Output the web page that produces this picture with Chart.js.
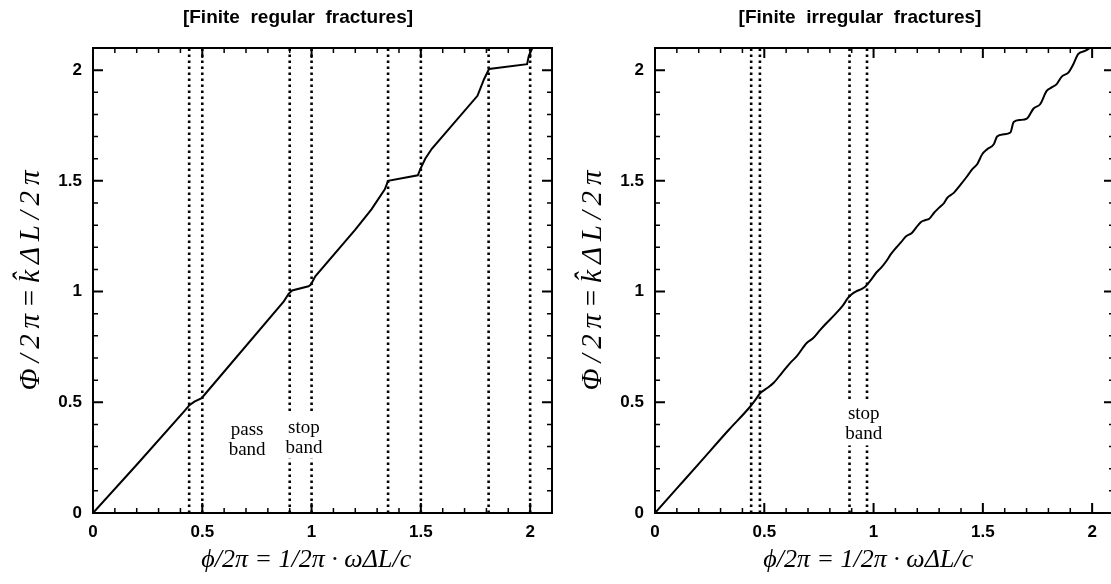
<!DOCTYPE html>
<html>
<head>
<title>Phase vs frequency: finite fractures</title>
<script src="https://cdn.jsdelivr.net/npm/chart.js@4.4.1/dist/chart.umd.min.js"></script>
<style>
body { margin: 0; background: #fff; width: 1111px; height: 584px; overflow: hidden; position: relative; }
.panel { position: absolute; top: 0; width: 557px; height: 584px; }
#left { left: 0; }
#right { left: 562px; }
</style>
</head>
<body>
<div class="panel" id="left"><canvas id="chartRegular" width="557" height="584"></canvas></div>
<div class="panel" id="right"><canvas id="chartIrregular" width="557" height="584"></canvas></div>
<script>
// regular fracture spacing: normalised frequency vs normalised phase
var regularX = [0, 0.2, 0.42, 0.441, 0.464, 0.497, 0.517, 0.873, 0.895, 0.911, 0.986, 0.997, 1.017, 1.2, 1.274, 1.335, 1.35, 1.486, 1.497, 1.52, 1.55, 1.759, 1.789, 1.812, 1.986, 1.994, 2.01];
var regularY = [0, 0.218, 0.462, 0.487, 0.503, 0.519, 0.542, 0.956, 0.99, 1.005, 1.024, 1.032, 1.069, 1.28, 1.371, 1.462, 1.5, 1.525, 1.552, 1.6, 1.645, 1.884, 1.959, 2.005, 2.027, 2.065, 2.1];
var regularBandEdges = [0.44, 0.5, 0.9, 1.0, 1.35, 1.5, 1.81, 2.0];

// irregular fracture spacing
var irregularX = [0, 0.1, 0.2, 0.338, 0.436, 0.46, 0.482, 0.51, 0.542, 0.58, 0.618, 0.65, 0.694, 0.724, 0.755, 0.785, 0.83, 0.86, 0.883, 0.9, 0.921, 0.944, 0.964, 0.99, 1.012, 1.035, 1.058, 1.08, 1.103, 1.125, 1.149, 1.175, 1.194, 1.217, 1.235, 1.255, 1.277, 1.3, 1.323, 1.338, 1.368, 1.399, 1.429, 1.451, 1.474, 1.497, 1.52, 1.55, 1.565, 1.595, 1.626, 1.641, 1.671, 1.701, 1.732, 1.762, 1.792, 1.815, 1.838, 1.861, 1.891, 1.914, 1.936, 1.967, 1.994];
var irregularY = [0, 0.111, 0.222, 0.376, 0.481, 0.512, 0.542, 0.562, 0.587, 0.632, 0.677, 0.71, 0.768, 0.79, 0.826, 0.858, 0.904, 0.938, 0.971, 0.988, 1.001, 1.011, 1.024, 1.055, 1.085, 1.108, 1.137, 1.17, 1.198, 1.222, 1.25, 1.265, 1.288, 1.314, 1.322, 1.329, 1.356, 1.379, 1.401, 1.424, 1.447, 1.484, 1.522, 1.552, 1.575, 1.62, 1.643, 1.665, 1.7, 1.71, 1.718, 1.766, 1.775, 1.781, 1.827, 1.846, 1.906, 1.922, 1.937, 1.971, 1.989, 2.027, 2.072, 2.087, 2.103];
var irregularBandEdges = [0.44, 0.48, 0.89, 0.97];

var axisMin = 0, axisMax = 2.1;
// trailing spaces pull the centred label a little to the left
var xTitle = 'ϕ/2π = 1/2π · ωΔL/c     ';
var yTitle = 'Φ\u2009/\u20092\u2009π\u2009=\u2009k\u0302\u2009Δ\u2009L\u2009/\u20092\u2009π';

var regularNotes = [
    { x: 0.705, y: 0.33, lines: ['pass', 'band'] },
    { x: 0.965, y: 0.34, lines: ['stop', 'band'] }
];
var irregularNotes = [
    { x: 0.955, y: 0.40, lines: ['stop', 'band'] }
];

var sans = "'Liberation Sans', Arial, Helvetica, sans-serif";
var serif = "'Liberation Serif', 'Times New Roman', serif";

function toPoints(xs, ys) {
    var pts = [];
    for (var i = 0; i < xs.length; i++) pts.push({ x: xs[i], y: ys[i] });
    return pts;
}

function bandLines(edges) {
    return edges.map(function (v) {
        return {
            data: [{ x: v, y: axisMin }, { x: v, y: axisMax }],
            borderColor: '#000',
            borderWidth: 2.6,
            borderDash: [2.4, 3.6],
            pointRadius: 0,
            showLine: true
        };
    });
}

// title, band notes, box frame and inward tick marks
var decorPlugin = {
    id: 'decor',
    afterDatasetsDraw: function (chart) {
        var ctx = chart.ctx, a = chart.chartArea;
        var xs = chart.scales.x, ys = chart.scales.y;
        var cfg = chart.options.plugins.decor;
        ctx.save();

        ctx.fillStyle = '#000';
        ctx.font = 'bold 19px ' + sans;
        ctx.textAlign = 'center';
        ctx.textBaseline = 'middle';
        ctx.fillText(cfg.title, 298, 18);

        ctx.font = '19px ' + serif;
        cfg.notes.forEach(function (n) {
            var px = xs.getPixelForValue(n.x), py = ys.getPixelForValue(n.y);
            var w = 0;
            n.lines.forEach(function (s) { w = Math.max(w, ctx.measureText(s).width); });
            ctx.fillStyle = '#fff';
            ctx.fillRect(px - w / 2 - 2, py - 25, w + 4, 46);
            ctx.fillStyle = '#000';
            ctx.fillText(n.lines[0], px, py - 10);
            ctx.fillText(n.lines[1], px, py + 10);
        });

        ctx.strokeStyle = '#000';
        ctx.lineWidth = 2;
        ctx.strokeRect(a.left, a.top, a.right - a.left, a.bottom - a.top);

        for (var k = 1; k <= 20; k++) {
            var v = k / 10;
            var major = k % 5 === 0;
            var len = major ? 10 : 5;
            ctx.lineWidth = major ? 2 : 1.5;
            var px = xs.getPixelForValue(v);
            var py = ys.getPixelForValue(v);
            ctx.beginPath();
            ctx.moveTo(px, a.bottom); ctx.lineTo(px, a.bottom - len);
            ctx.moveTo(px, a.top); ctx.lineTo(px, a.top + len);
            ctx.moveTo(a.left, py); ctx.lineTo(a.left + len, py);
            ctx.moveTo(a.right, py); ctx.lineTo(a.right - len, py);
            ctx.stroke();
        }
        ctx.restore();
    }
};

function tickText(v) {
    return String(Math.round(v * 10) / 10);
}

function makeChart(id, curve, edges, title, notes, smooth) {
    var datasets = bandLines(edges);
    datasets.push({
        data: curve,
        borderColor: '#000',
        borderWidth: 2,
        pointRadius: 0,
        showLine: true,
        cubicInterpolationMode: smooth ? 'monotone' : 'default',
        tension: 0
    });
    return new Chart(document.getElementById(id).getContext('2d'), {
        type: 'scatter',
        data: { datasets: datasets },
        plugins: [decorPlugin],
        options: {
            responsive: false,
            animation: false,
            layout: { padding: { top: 48, right: 5 } },
            plugins: {
                legend: { display: false },
                tooltip: { enabled: false },
                decor: { title: title, notes: notes }
            },
            scales: {
                x: {
                    type: 'linear', min: axisMin, max: axisMax,
                    grid: { display: false, drawTicks: false },
                    border: { display: false },
                    ticks: { stepSize: 0.5, includeBounds: false, maxRotation: 0, color: '#000', padding: 9,
                             callback: tickText, font: { family: sans, size: 17, weight: 'bold' } },
                    title: { display: true, text: xTitle, color: '#000', padding: { top: 2, bottom: 8 },
                             font: { family: serif, style: 'italic', size: 26 } },
                    afterFit: function (s) { s.height = 71; }
                },
                y: {
                    type: 'linear', min: axisMin, max: axisMax,
                    grid: { display: false, drawTicks: false },
                    border: { display: false },
                    ticks: { stepSize: 0.5, includeBounds: false, color: '#000', padding: 11,
                             callback: tickText, font: { family: sans, size: 17, weight: 'bold' } },
                    title: { display: true, text: yTitle, color: '#000', padding: { top: 14, bottom: 4 },
                             font: { family: serif, style: 'italic', size: 29 } },
                    afterFit: function (s) { s.width = 93; }
                }
            }
        }
    });
}

makeChart('chartRegular', toPoints(regularX, regularY), regularBandEdges,
    '[Finite  regular  fractures]', regularNotes, false);
makeChart('chartIrregular', toPoints(irregularX, irregularY), irregularBandEdges,
    '[Finite  irregular  fractures]', irregularNotes, true);
</script>
</body>
</html>
